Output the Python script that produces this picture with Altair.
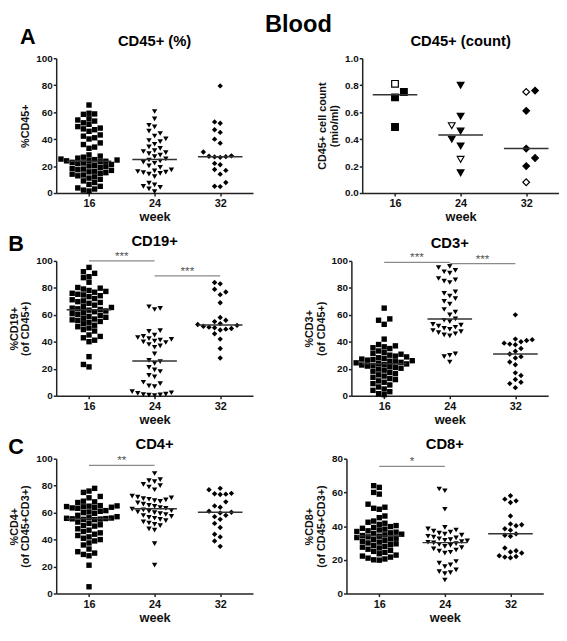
import altair as alt
import pandas as pd
import numpy as np

WEEKS = ["16", "24", "32"]
SHAPES = ["square", "triangle-down", "diamond"]

# Panel A left: CD45+ (%)
A16 = [65.3, 59.2, 58.7, 58.4, 55.1, 54.2, 53.4, 52.1, 51.0, 49.3, 48.2, 47.6, 47.0, 45.8, 43.1,
       42.2, 41.0, 40.1, 37.2, 36.0, 34.1, 33.2,
       28.3, 27.4, 26.6, 25.9, 25.2, 24.8, 24.5, 24.2, 23.9, 23.6, 23.2, 22.8, 22.3, 21.8, 21.2,
       20.6, 20.1, 19.5, 18.9, 18.3, 17.8, 17.3, 16.8, 16.2, 15.7, 15.1, 14.6, 14.0, 13.4, 12.8,
       12.0, 11.1, 10.2, 9.0, 7.8, 6.4, 5.0, 3.8, 3.0, 2.2, 1.5]
A24 = [60.5, 55.0, 50.3, 49.1, 46.0, 44.2, 42.3, 40.2, 39.0, 38.1, 36.2, 34.3, 33.1, 31.5, 30.8,
       30.0, 29.2, 28.1, 27.0, 25.3, 24.5, 23.8, 23.0, 22.1, 20.2, 19.0, 17.2, 16.5, 16.0, 15.5,
       15.1, 14.6, 14.0, 12.2, 7.3, 6.1, 5.0, 4.2, 3.1, 1.0]
A32 = [79.5, 52.8, 51.8, 47.0, 45.0, 40.0, 37.0, 30.5, 27.6, 27.3, 27.0, 26.8, 26.5, 22.0, 21.0,
       17.5, 16.8, 14.0, 7.8, 5.0, 4.8]

# Panel A right: CD45+ (count), open symbols flagged
C16 = [0.81, 0.75, 0.71, 0.49]
C16_OPEN = [True, False, False, False]
C24 = [0.80, 0.57, 0.50, 0.46, 0.40, 0.35, 0.25, 0.15]
C24_OPEN = [False, False, True, False, False, False, True, False]
C32 = [0.76, 0.75, 0.61, 0.33, 0.26, 0.20, 0.08]
C32_OPEN = [False, True, False, False, False, False, True]

# Panel B left: CD19+
B16 = [95.2, 92.0, 90.8, 88.3, 87.6, 84.2, 80.3, 79.8, 79.2, 78.1, 77.4, 76.8, 76.0, 75.3, 74.8,
       74.2, 73.5, 72.1, 71.2, 70.4, 69.8, 69.2, 68.6, 67.2, 66.3, 65.5, 65.0, 64.5, 64.0, 63.5,
       62.9, 62.3, 61.6, 60.9, 60.2, 59.6, 58.9, 58.2, 57.5, 56.9, 56.3, 55.7, 55.1, 54.5, 53.4,
       52.3, 51.2, 50.2, 49.1, 48.0, 45.1, 44.0, 43.0, 41.2, 40.1, 29.0, 23.2, 21.4]
B24 = [66.0, 64.8, 64.0, 48.3, 47.8, 45.0, 44.1, 43.2, 42.4, 41.8, 41.2, 40.6, 40.0, 39.5, 38.0,
       37.0, 36.0, 31.0, 26.2, 25.3, 24.0, 21.0, 19.2, 18.0, 15.1, 14.0, 10.0, 9.0, 7.3, 6.8,
       3.0, 2.2, 1.8, 1.2, 0.9, 0.6, 0.4, 0.2]
B32 = [84.0, 83.0, 79.0, 77.0, 75.0, 69.0, 58.0, 56.0, 55.0, 53.5, 52.8, 52.2, 51.5, 50.9, 50.4,
       49.9, 49.4, 48.8, 46.0, 42.0, 35.0, 28.0]

# Panel B right: CD3+
D16 = [65.0, 57.0, 56.0, 53.0, 42.0, 38.0, 37.0, 36.3, 35.6, 35.0, 33.2, 32.1, 31.4, 30.8, 30.1,
       29.4, 28.8, 28.2, 27.7, 27.2, 26.8, 26.4, 26.0, 25.6, 25.2, 24.8, 24.4, 24.0, 23.6, 23.2,
       22.8, 22.4, 22.0, 21.5, 21.0, 20.4, 19.8, 19.0, 18.2, 17.3, 16.4, 15.5, 14.6, 13.7, 12.8,
       12.0, 11.0, 10.0, 9.0, 8.0, 6.5, 5.0, 4.0, 3.0, 1.5, 0.8]
D24 = [96.0, 95.0, 93.0, 92.0, 91.0, 87.0, 86.0, 85.0, 84.0, 77.0, 76.0, 74.0, 72.0, 70.0, 68.0,
       64.0, 62.0, 60.0, 57.0, 56.0, 55.0, 53.0, 52.4, 51.6, 50.8, 50.0, 49.2, 48.4, 47.6, 46.8,
       46.0, 45.2, 44.4, 31.0, 30.0, 29.0, 25.0]
D32 = [60.0, 42.0, 41.6, 41.0, 40.0, 39.0, 38.3, 37.8, 35.0, 33.0, 31.0, 29.0, 28.0, 25.0, 23.0,
       17.0, 15.0, 12.0, 10.0, 9.0, 6.0]

# Panel C left: CD4+
E16 = [78.0, 76.0, 75.0, 72.0, 71.0, 68.5, 68.0, 67.5, 65.2, 65.0, 64.8, 64.5, 64.3, 64.0, 63.8,
       63.5, 63.2, 61.5, 61.0, 60.5, 60.0, 59.5, 58.0, 57.0, 56.2, 56.0, 55.8, 55.6, 55.4, 55.2,
       55.0, 54.8, 53.0, 52.0, 51.0, 50.5, 50.0, 48.0, 47.0, 46.0, 45.0, 44.0, 43.0, 42.0, 41.0,
       40.0, 39.0, 37.5, 36.0, 33.0, 31.0, 30.0, 29.0, 28.0, 21.0, 5.0]
E24 = [89.0, 84.5, 83.8, 83.0, 81.0, 80.0, 79.0, 77.0, 72.3, 71.5, 70.9, 70.4, 69.9, 69.4, 68.9,
       68.4, 67.2, 66.3, 65.4, 64.6, 63.8, 63.2, 62.6, 62.0, 61.5, 61.0, 60.5, 60.0, 59.3, 58.6,
       57.9, 57.2, 56.5, 55.8, 55.0, 54.1, 53.2, 52.3, 51.3, 50.3, 48.0, 47.0, 37.0, 21.0]
E32 = [78.0, 77.0, 74.3, 74.0, 73.7, 73.4, 68.0, 65.0, 64.0, 61.0, 60.3, 59.8, 58.0, 57.0, 55.0,
       52.0, 49.0, 44.0, 42.0, 39.0, 35.0]

# Panel C right: CD8+
F16 = [64.0, 63.0, 60.0, 59.0, 53.0, 51.2, 50.6, 50.0, 46.0, 45.0, 43.0, 42.3, 41.7, 41.0, 40.3,
       39.7, 39.2, 38.7, 38.2, 37.7, 37.2, 36.8, 36.4, 36.0, 35.6, 35.2, 34.8, 34.4, 34.0, 33.6,
       33.2, 32.8, 32.4, 32.0, 31.5, 31.0, 30.5, 30.0, 29.5, 29.0, 28.5, 28.0, 27.5, 27.0, 26.3,
       25.6, 25.0, 24.4, 23.6, 22.8, 22.2, 21.6, 21.0, 20.5, 20.0, 19.8]
F24 = [62.0, 61.0, 50.0, 39.2, 38.4, 37.7, 37.0, 36.4, 35.8, 35.2, 34.6, 34.0, 33.5, 33.0, 32.5,
       32.0, 31.6, 31.2, 30.8, 30.4, 30.0, 29.6, 29.2, 28.6, 28.0, 27.2, 26.5, 25.8, 25.2, 24.5,
       24.0, 19.0, 18.0, 17.0, 16.0, 14.0, 13.0, 12.4, 11.8, 8.0]
F32 = [58.0, 56.0, 55.0, 54.0, 46.0, 41.3, 40.8, 40.2, 38.4, 37.6, 35.4, 34.6, 34.0, 27.0, 25.4,
       24.6, 24.0, 22.4, 22.0, 21.6, 21.2]

# significance brackets: (from group, to group, height, label)
SIG_CD19 = [(1, 2, 100, "***"), (2, 3, 89, "***")]
SIG_CD3 = [(1, 2, 99, "***"), (2, 3, 98, "***")]
SIG_CD4 = [(1, 2, 95, "**")]
SIG_CD8 = [(1, 2, 75.5, "*")]

W = 200
H = 137
FONT = "Liberation Sans"


def swarm(values, ppu_y, sx, sy):
    """Row-style dot-plot layout: pixel x-offsets so that symbols do not overlap."""
    order = sorted(range(len(values)), key=lambda i: values[i])
    placed = []
    out = [0.0] * len(values)
    for n, i in enumerate(order):
        y = values[i] * ppu_y
        near = [px for px, py in placed if abs(py - y) < sy - 1e-9]
        cands = [0.0] + [px + sx for px in near] + [px - sx for px in near]
        sign = 1 if n % 2 == 0 else -1
        cands.sort(key=lambda c: (round(abs(c), 6), -sign * c))
        best = 0.0
        for c in cands:
            if all(abs(c - px) >= sx - 1e-9 for px in near):
                best = c
                break
        placed.append((best, y))
        out[i] = best
    return out


LABEL_EXPR = (f"datum.value == 1 ? '{WEEKS[0]}' : datum.value == 2 ? '{WEEKS[1]}' : '{WEEKS[2]}'")


def panel(groups, title, ytitle, ymax, ystep, fmt, sig, opens=None, size=30, sx=5.7, sy=5.5,
          title_offset=4):
    ppu_x = W / 3.0
    ppu_y = H / ymax
    rows = []
    for k, vals in enumerate(groups):
        offs = swarm(vals, ppu_y, sx, sy)
        for j, v in enumerate(vals):
            is_open = opens[k][j] if opens else False
            rows.append({"week": WEEKS[k], "pos": k + 1 + offs[j] / ppu_x, "value": v,
                         "fill": "white" if is_open else "black"})
    df = pd.DataFrame(rows)
    med = pd.DataFrame([{"x1": k + 1 - 0.34, "x2": k + 1 + 0.34, "med": float(np.median(v))}
                        for k, v in enumerate(groups)])

    nt = int(round(ymax / ystep))
    yticks = [round(i * ystep, 4) for i in range(nt + 1)]
    xscale = alt.Scale(domain=[0.5, 3.5], nice=False, zero=False)
    yscale = alt.Scale(domain=[0, ymax], nice=False, zero=True)
    xaxis = alt.Axis(values=[1, 2, 3], labelExpr=LABEL_EXPR, title="week", grid=False)
    yaxis_kw = dict(values=yticks, title=ytitle, grid=False)
    if fmt:
        yaxis_kw["format"] = fmt
    yaxis = alt.Axis(**yaxis_kw)

    mark_kw = dict(filled=True, size=size, opacity=1)
    if opens:
        mark_kw.update(stroke="black", strokeWidth=1.2)
    points = alt.Chart(df).mark_point(**mark_kw).encode(
        x=alt.X("pos:Q", scale=xscale, axis=xaxis),
        y=alt.Y("value:Q", scale=yscale, axis=yaxis),
        shape=alt.Shape("week:N", scale=alt.Scale(domain=WEEKS, range=SHAPES), legend=None),
        fill=alt.Fill("fill:N", scale=None),
    )
    medians = alt.Chart(med).mark_rule(color="#333333", strokeWidth=1.5).encode(
        x=alt.X("x1:Q", scale=xscale, axis=xaxis),
        x2="x2:Q",
        y=alt.Y("med:Q", scale=yscale, axis=yaxis),
    )
    layers = [points, medians]
    if sig:
        sdf = pd.DataFrame([{"x1": a, "x2": b, "xm": (a + b) / 2.0, "y": y, "label": t}
                            for a, b, y, t in sig])
        layers.append(alt.Chart(sdf).mark_rule(color="#8a8a8a", strokeWidth=1.3).encode(
            x=alt.X("x1:Q", scale=xscale, axis=xaxis), x2="x2:Q",
            y=alt.Y("y:Q", scale=yscale, axis=yaxis)))
        layers.append(alt.Chart(sdf).mark_text(baseline="alphabetic", dy=-1, fontSize=12,
                                               color="#555555", font=FONT).encode(
            x=alt.X("xm:Q", scale=xscale, axis=xaxis),
            y=alt.Y("y:Q", scale=yscale, axis=yaxis),
            text="label:N"))
    return alt.layer(*layers).properties(
        width=W, height=H,
        title=alt.TitleParams(title, fontSize=15, fontWeight="bold", font=FONT, color="black",
                              anchor="middle", frame="group", offset=title_offset))


pA1 = panel([A16, A24, A32], "CD45+ (%)", "%CD45+", 100, 20, None, [])
pA2 = panel([C16, C24, C32], "CD45+ (count)", ["CD45+ cell count", "(mio/ml)"], 1.0, 0.2, ".1f",
            [], opens=[C16_OPEN, C24_OPEN, C32_OPEN], size=46, sx=9, sy=9)
pB1 = panel([B16, B24, B32], "CD19+", ["%CD19+", "(of CD45+)"], 100, 20, None, SIG_CD19,
            title_offset=1)
pB2 = panel([D16, D24, D32], "CD3+", ["%CD3+", "(of CD45+)"], 100, 20, None, SIG_CD3,
            title_offset=1)
pC1 = panel([E16, E24, E32], "CD4+", ["%CD4+", "(of CD45+CD3+)"], 100, 20, None, SIG_CD4,
            title_offset=2)
pC2 = panel([F16, F24, F32], "CD8+", ["%CD8+", "(of CD45+CD3+)"], 80, 20, None, SIG_CD8,
            title_offset=2)


def letter(t, off):
    return alt.TitleParams(t, fontSize=22, fontWeight="bold", font=FONT, color="black",
                           anchor="start", offset=off)


rowA = alt.hconcat(pA1, pA2, spacing=65, title=letter("A", -15))
rowB = alt.hconcat(pB1, pB2, spacing=51, title=letter("B", -22))
rowC = alt.hconcat(pC1, pC2, spacing=51, title=letter("C", -22))

chart = alt.concat(
    rowA, rowB, rowC, columns=1, align="none", spacing=10,
    title=alt.TitleParams("Blood", fontSize=24, fontWeight="bold", font=FONT, color="black",
                          anchor="middle", dx=15, offset=-10),
).properties(
    padding={"left": 0, "right": 0, "top": 0, "bottom": 0}
).configure(font=FONT).configure_view(stroke=None).configure_axis(
    domainColor="#222222", domainWidth=1.5, tickColor="#222222", tickWidth=1.5, tickSize=3,
    labelFont=FONT, labelFontWeight="bold", labelColor="#111111",
    titleFont=FONT, titleFontWeight="bold", titleColor="#111111", grid=False,
).configure_axisX(labelFontSize=11, labelPadding=2, titleFontSize=13, titlePadding=2).configure_axisY(
    labelFontSize=10, labelPadding=1, titleFontSize=11, titleLineHeight=12, titlePadding=5)

chart.save("out.html", embed_options={"renderer": "svg", "actions": False})
